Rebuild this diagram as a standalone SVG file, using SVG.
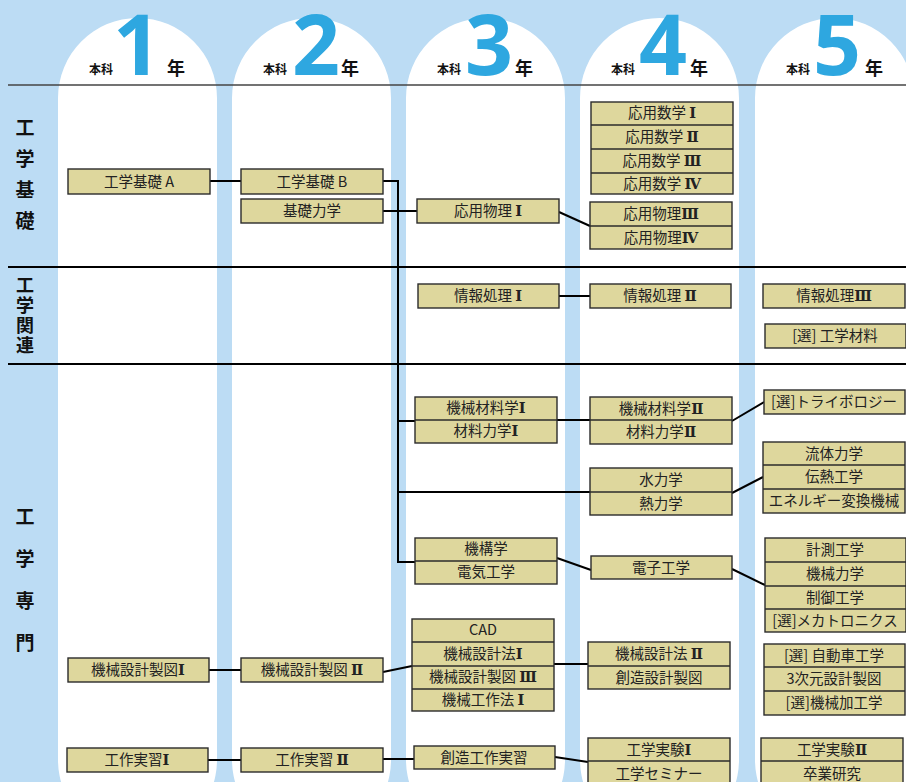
<svg xmlns="http://www.w3.org/2000/svg" width="906" height="782" viewBox="0 0 906 782">
<defs>
<style>
.bg{fill:#BCDCF4}
.col{fill:#FFFFFF}
.box{fill:#DED79D;stroke:#2b2b2b;stroke-width:1.4}
.div{stroke:#2b2b2b;stroke-width:1.4;fill:none}
.t{font-family:"Noto Sans CJK JP","Noto Sans",sans-serif;font-size:14.5px;fill:#222;text-anchor:middle}
.rn{font-family:"DejaVu Serif","Liberation Serif","Noto Sans CJK JP",serif;font-weight:bold}
.cat{font-family:"Noto Sans CJK JP",sans-serif;font-weight:bold;fill:#111;writing-mode:vertical-rl;text-anchor:start}
.hk{font-family:"Noto Sans CJK JP",sans-serif;font-size:12px;font-weight:bold;fill:#111;text-anchor:middle}
.hn{font-family:"Noto Sans CJK JP",sans-serif;font-size:18px;font-weight:bold;fill:#111;text-anchor:middle}
.dg{font-family:"Open Sans","Liberation Sans",sans-serif;font-size:84px;font-weight:bold;fill:#2EA7E0;text-anchor:middle}
.sec{stroke:#000;stroke-width:2}
.conn{stroke:#000;stroke-width:2;fill:none}
</style>
</defs>
<rect class="bg" x="0" y="0" width="906" height="782"/>
<g id="columns">
<path class="col" d="M58,98 A79.5,80 0 0 1 217,98 L217,760 A79.5,80 0 0 1 58,760 Z"/>
<path class="col" d="M232,98 A79.5,80 0 0 1 391,98 L391,760 A79.5,80 0 0 1 232,760 Z"/>
<path class="col" d="M406,98 A79.5,80 0 0 1 565,98 L565,760 A79.5,80 0 0 1 406,760 Z"/>
<path class="col" d="M580,98 A79.5,80 0 0 1 739,98 L739,760 A79.5,80 0 0 1 580,760 Z"/>
<path class="col" d="M755,98 A79.5,80 0 0 1 914,98 L914,760 A79.5,80 0 0 1 755,760 Z"/>
</g>
<g id="headers">
<text class="hk" x="101" y="74">本科</text><text class="dg" x="137" y="75">1</text><text class="hn" x="176" y="75">年</text>
<text class="hk" x="275" y="74">本科</text><text class="dg" x="316" y="75">2</text><text class="hn" x="350" y="75">年</text>
<text class="hk" x="449" y="74">本科</text><text class="dg" x="489" y="75">3</text><text class="hn" x="524" y="75">年</text>
<text class="hk" x="623" y="74">本科</text><text class="dg" x="663" y="75">4</text><text class="hn" x="699" y="75">年</text>
<text class="hk" x="798" y="74">本科</text><text class="dg" x="837" y="75">5</text><text class="hn" x="874" y="75">年</text>
</g>
<g id="sections">
<line x1="8" y1="85" x2="906" y2="85" stroke="#444" stroke-width="1.6"/>
<line class="sec" x1="8" y1="267" x2="906" y2="267"/>
<line class="sec" x1="8" y1="364" x2="906" y2="364"/>
<text class="cat" x="25" y="118.5" font-size="19" letter-spacing="12">工学基礎</text>
<text class="cat" x="25" y="276" font-size="18" letter-spacing="2">工学関連</text>
<text class="cat" x="25" y="507.5" font-size="19" letter-spacing="23">工学専門</text>
</g>
<g id="connectors">
<path class="conn" d="M210,181 H241"/>
<path class="conn" d="M383,181 H398 V562 H415"/>
<path class="conn" d="M398,421 H415"/>
<path class="conn" d="M398,492 H590"/>
<path class="conn" d="M383,211 H417"/>
<path class="conn" d="M559,212 L590,226"/>
<path class="conn" d="M559,296 H590"/>
<path class="conn" d="M557,420 H590"/>
<path class="conn" d="M732,421 L764,402"/>
<path class="conn" d="M732,493 L763,477"/>
<path class="conn" d="M557,558 L591,570"/>
<path class="conn" d="M732,569 L765,585"/>
<path class="conn" d="M209,670 H241"/>
<path class="conn" d="M383,672 L412,666"/>
<path class="conn" d="M554,664 H588"/>
<path class="conn" d="M208,760 H241"/>
<path class="conn" d="M383,759 H414"/>
<path class="conn" d="M555,757 L588,762"/>
</g>
<g id="n_kiso_a"><rect class="box" x="68" y="169" width="142" height="25"/><text class="t" x="139" y="187">工学基礎 A</text></g>
<g id="n_seizu1"><rect class="box" x="68" y="658" width="141" height="24"/><text class="t" x="138" y="675">機械設計製図<tspan class="rn">Ⅰ</tspan></text></g>
<g id="n_jisshu1"><rect class="box" x="67" y="748" width="141" height="24"/><text class="t" x="137" y="765">工作実習<tspan class="rn">Ⅰ</tspan></text></g>
<g id="n_kiso_b"><rect class="box" x="241" y="169" width="142" height="25"/><text class="t" x="312" y="187">工学基礎 B</text></g>
<g id="n_kiso_rikigaku"><rect class="box" x="241" y="199" width="142" height="24"/><text class="t" x="312" y="216">基礎力学</text></g>
<g id="n_seizu2"><rect class="box" x="241" y="658" width="142" height="24"/><text class="t" x="312" y="675">機械設計製図 <tspan class="rn">Ⅱ</tspan></text></g>
<g id="n_jisshu2"><rect class="box" x="241" y="748" width="142" height="24"/><text class="t" x="312" y="765">工作実習 <tspan class="rn">Ⅱ</tspan></text></g>
<g id="n_butsuri1"><rect class="box" x="417" y="199" width="142" height="24"/><text class="t" x="488" y="216">応用物理 <tspan class="rn">Ⅰ</tspan></text></g>
<g id="n_joho1"><rect class="box" x="418" y="284" width="141" height="24"/><text class="t" x="488" y="301">情報処理 <tspan class="rn">Ⅰ</tspan></text></g>
<g id="n_zairyo1"><rect class="box" x="415" y="397" width="142" height="46"/><line class="div" x1="415" y1="420" x2="557" y2="420"/><text class="t" x="486" y="413">機械材料学<tspan class="rn">Ⅰ</tspan></text><text class="t" x="486" y="436">材料力学<tspan class="rn">Ⅰ</tspan></text></g>
<g id="n_kiko"><rect class="box" x="415" y="538" width="142" height="46"/><line class="div" x1="415" y1="561" x2="557" y2="561"/><text class="t" x="486" y="554">機構学</text><text class="t" x="486" y="577">電気工学</text></g>
<g id="n_cad"><rect class="box" x="412" y="619" width="142" height="92"/><line class="div" x1="412" y1="642" x2="554" y2="642"/><line class="div" x1="412" y1="666" x2="554" y2="666"/><line class="div" x1="412" y1="689" x2="554" y2="689"/><text class="t" x="483" y="635">CAD</text><text class="t" x="483" y="659">機械設計法<tspan class="rn">Ⅰ</tspan></text><text class="t" x="483" y="682">機械設計製図 <tspan class="rn">Ⅲ</tspan></text><text class="t" x="483" y="705">機械工作法 <tspan class="rn">Ⅰ</tspan></text></g>
<g id="n_sozo_jisshu"><rect class="box" x="414" y="746" width="141" height="23"/><text class="t" x="484" y="763">創造工作実習</text></g>
<g id="n_sugaku"><rect class="box" x="591" y="102" width="142" height="92"/><line class="div" x1="591" y1="125" x2="733" y2="125"/><line class="div" x1="591" y1="149" x2="733" y2="149"/><line class="div" x1="591" y1="173" x2="733" y2="173"/><text class="t" x="662" y="118">応用数学 <tspan class="rn">Ⅰ</tspan></text><text class="t" x="662" y="142">応用数学 <tspan class="rn">Ⅱ</tspan></text><text class="t" x="662" y="166">応用数学 <tspan class="rn">Ⅲ</tspan></text><text class="t" x="662" y="189">応用数学 <tspan class="rn">Ⅳ</tspan></text></g>
<g id="n_butsuri34"><rect class="box" x="590" y="202" width="142" height="47"/><line class="div" x1="590" y1="226" x2="732" y2="226"/><text class="t" x="661" y="219">応用物理<tspan class="rn">Ⅲ</tspan></text><text class="t" x="661" y="243">応用物理<tspan class="rn">Ⅳ</tspan></text></g>
<g id="n_joho2"><rect class="box" x="590" y="284" width="141" height="24"/><text class="t" x="660" y="301">情報処理 <tspan class="rn">Ⅱ</tspan></text></g>
<g id="n_zairyo2"><rect class="box" x="590" y="397" width="142" height="47"/><line class="div" x1="590" y1="420" x2="732" y2="420"/><text class="t" x="661" y="414">機械材料学<tspan class="rn">Ⅱ</tspan></text><text class="t" x="661" y="437">材料力学<tspan class="rn">Ⅱ</tspan></text></g>
<g id="n_suiriki"><rect class="box" x="590" y="468" width="142" height="47"/><line class="div" x1="590" y1="492" x2="732" y2="492"/><text class="t" x="661" y="485">水力学</text><text class="t" x="661" y="509">熱力学</text></g>
<g id="n_denshi"><rect class="box" x="591" y="556" width="141" height="23"/><text class="t" x="661" y="573">電子工学</text></g>
<g id="n_sekkei2"><rect class="box" x="588" y="642" width="142" height="47"/><line class="div" x1="588" y1="666" x2="730" y2="666"/><text class="t" x="659" y="659">機械設計法 <tspan class="rn">Ⅱ</tspan></text><text class="t" x="659" y="683">創造設計製図</text></g>
<g id="n_jikken1"><rect class="box" x="588" y="738" width="142" height="52"/><line class="div" x1="588" y1="761" x2="730" y2="761"/><text class="t" x="659" y="755">工学実験<tspan class="rn">Ⅰ</tspan></text><text class="t" x="659" y="779">工学セミナー</text></g>
<g id="n_joho3"><rect class="box" x="763" y="284" width="142" height="24"/><text class="t" x="834" y="301">情報処理<tspan class="rn">Ⅲ</tspan></text></g>
<g id="n_kogaku_zairyo"><rect class="box" x="765" y="324" width="141" height="24"/><text class="t" x="835" y="341">[選] 工学材料</text></g>
<g id="n_tribo"><rect class="box" x="764" y="390" width="141" height="24"/><text class="t" x="834" y="407">[選]トライボロジー</text></g>
<g id="n_ryutai"><rect class="box" x="763" y="442" width="142" height="71"/><line class="div" x1="763" y1="465" x2="905" y2="465"/><line class="div" x1="763" y1="489" x2="905" y2="489"/><text class="t" x="834" y="459">流体力学</text><text class="t" x="834" y="482">伝熱工学</text><text class="t" x="834" y="506">エネルギー変換機械</text></g>
<g id="n_keisoku"><rect class="box" x="765" y="538" width="141" height="94"/><line class="div" x1="765" y1="562" x2="906" y2="562"/><line class="div" x1="765" y1="586" x2="906" y2="586"/><line class="div" x1="765" y1="609" x2="906" y2="609"/><text class="t" x="835" y="555">計測工学</text><text class="t" x="835" y="579">機械力学</text><text class="t" x="835" y="603">制御工学</text><text class="t" x="835" y="626">[選]メカトロニクス</text></g>
<g id="n_jidosha"><rect class="box" x="764" y="644" width="141" height="71"/><line class="div" x1="764" y1="667" x2="905" y2="667"/><line class="div" x1="764" y1="691" x2="905" y2="691"/><text class="t" x="834" y="661">[選] 自動車工学</text><text class="t" x="834" y="684">3次元設計製図</text><text class="t" x="834" y="708">[選]機械加工学</text></g>
<g id="n_jikken2"><rect class="box" x="761" y="738" width="142" height="52"/><line class="div" x1="761" y1="761" x2="903" y2="761"/><text class="t" x="832" y="755">工学実験<tspan class="rn">Ⅱ</tspan></text><text class="t" x="832" y="779">卒業研究</text></g>
</svg>
